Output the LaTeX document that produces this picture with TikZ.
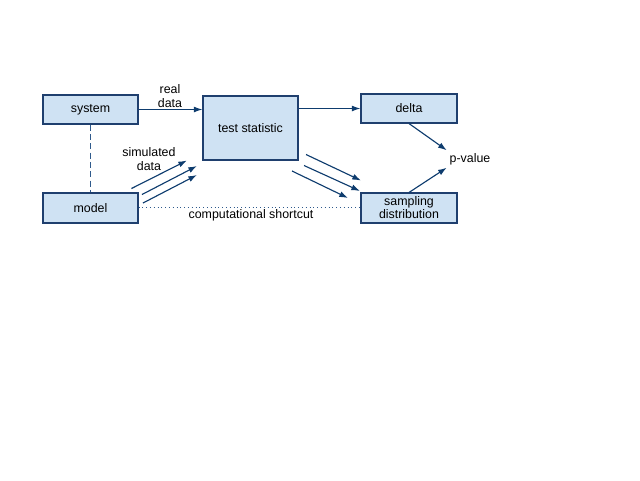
\documentclass[tikz,border=0pt]{standalone}
\usepackage{fontspec}
\setmainfont{Liberation Sans}
\usetikzlibrary{arrows.meta}
\definecolor{boxfill}{HTML}{CFE2F3}
\definecolor{boxline}{HTML}{1F3F6E}
\definecolor{arrowc}{HTML}{0E3C6E}
\definecolor{dotc}{HTML}{2F5A8C}
\begin{document}
\begin{tikzpicture}[x=0.75pt,y=-0.75pt,
  every node/.style={font=\fontsize{9.3}{10}\selectfont, text=black},
  blockbox/.style={draw=boxline, fill=boxfill, line width=0.8pt, minimum width=95*0.75pt, align=center, inner sep=0pt},
  conn/.style={draw=arrowc, line width=0.85pt, -{Latex[length=6.5pt,width=4.5pt]}},
  lbl/.style={align=center, inner sep=1pt}]
\useasboundingbox (0,0) rectangle (640,480);
\node[blockbox, minimum height=29*0.75pt] (system) at (90.5,109.5) {system};
\node[blockbox, minimum height=64*0.75pt] (test) at (250.5,128) {test statistic};
\node[blockbox, minimum height=30*0.75pt] (model) at (90.5,208) {model};
\node[blockbox, minimum width=96*0.75pt, minimum height=29*0.75pt] (delta) at (409,108.5) {delta};
\node[blockbox, minimum width=96*0.75pt, minimum height=30*0.75pt, font=\fontsize{9.3}{9.8}\selectfont] (sampling) at (409,208) {sampling\\distribution};
\node[inner sep=2pt] (pv) at (470,159) {p-value};
\node[lbl] (reallbl) at (170,96) {real\\data};
\node[lbl, font=\fontsize{9.3}{10.5}\selectfont] (simlbl) at (149,159) {simulated\\data};
\node[lbl] (shortlbl) at (251,215) {computational shortcut};
% connectors
\draw[conn] (system.east) -- (system.east -| test.west);
\draw[conn] (delta.west -| test.east) -- (delta.west);
\draw[conn] (delta.south) -- (pv.north west);
\draw[conn] (sampling.north) -- (pv.south west);
\draw[draw=dotc, line width=0.9pt, dash pattern=on 4.5pt off 2.5pt] (system.south) -- (model.north);
\draw[draw=dotc, line width=0.75pt, dash pattern=on 0.75pt off 2.1pt] (model.east |- 0,207) -- (sampling.west |- 0,207);
% simulated data arrows
\coordinate (s1a) at (131.5,188.5); \coordinate (s1b) at (187,160.5);
\coordinate (s2a) at (142,194.5); \coordinate (s2b) at (197,166);
\coordinate (s3a) at (143,203); \coordinate (s3b) at (197,175);
\draw[conn] (s1a) -- (s1b);
\draw[conn] (s2a) -- (s2b);
\draw[conn] (s3a) -- (s3b);
% to sampling distribution arrows
\coordinate (t1a) at (306,154.5); \coordinate (t1b) at (361,180.5);
\coordinate (t2a) at (304,165.5); \coordinate (t2b) at (360,191);
\coordinate (t3a) at (292,171); \coordinate (t3b) at (348,198);
\draw[conn] (t1a) -- (t1b);
\draw[conn] (t2a) -- (t2b);
\draw[conn] (t3a) -- (t3b);
\end{tikzpicture}
\end{document}
